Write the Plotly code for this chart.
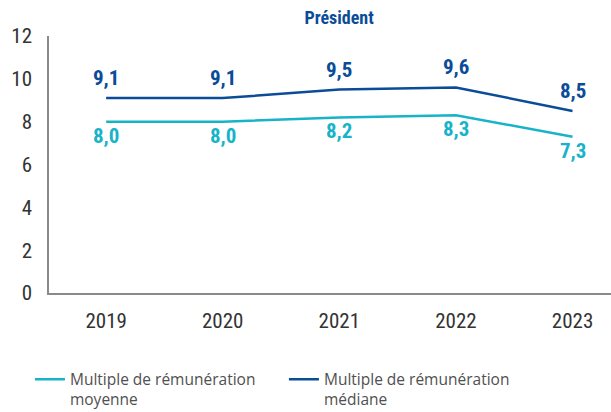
import plotly.graph_objects as go

years = ["2019", "2020", "2021", "2022", "2023"]
moyenne = [8.0, 8.0, 8.2, 8.3, 7.3]
mediane = [9.1, 9.1, 9.5, 9.6, 8.5]
y_ticks = [0, 2, 4, 6, 8, 10, 12]

CYAN = "#17b3c9"
NAVY = "#0b4c98"
NUM_FONT = "Roboto Condensed, Open Sans Condensed, sans-serif"

x = list(range(len(years)))

fig = go.Figure()
fig.add_trace(go.Scatter(
    x=x, y=moyenne, mode="lines", name="Multiple de rémunération<br>moyenne",
    line=dict(color=CYAN, width=2.5),
))
fig.add_trace(go.Scatter(
    x=x, y=mediane, mode="lines", name="Multiple de rémunération<br>médiane",
    line=dict(color=NAVY, width=2.5),
))

def fmt(v):
    return f"{v:.1f}".replace(".", ",")

annotations = []
for i, v in enumerate(mediane):
    annotations.append(dict(x=i, y=v, text=fmt(v), showarrow=False, yshift=20,
                            font=dict(family=NUM_FONT, size=21, color=NAVY, weight="bold")))
for i, v in enumerate(moyenne):
    annotations.append(dict(x=i, y=v, text=fmt(v), showarrow=False, yshift=-14,
                            font=dict(family=NUM_FONT, size=21, color=CYAN, weight="bold")))

fig.update_layout(
    width=611, height=412,
    margin=dict(l=49, r=0, t=36, b=119),
    paper_bgcolor="white", plot_bgcolor="white",
    title=dict(text="<b>Président</b>", x=0.555, xanchor="center", y=0.958, yanchor="middle",
               font=dict(family=NUM_FONT, size=18, color=NAVY)),
    xaxis=dict(range=[-0.49, 4.33], tickvals=x, ticktext=years, showgrid=False,
               zeroline=False, showline=True, linecolor="#8a8a8a", linewidth=1.5,
               ticks="outside", ticklen=0, ticklabelstandoff=8,
               tickfont=dict(family=NUM_FONT, size=21, color="#333333")),
    yaxis=dict(range=[0, 12], tickvals=y_ticks, showgrid=False, zeroline=False,
               showline=True, linecolor="#8a8a8a", linewidth=1.5,
               ticks="outside", ticklen=0, ticklabelstandoff=11,
               tickfont=dict(family=NUM_FONT, size=21, color="#333333")),
    showlegend=True,
    legend=dict(orientation="h", x=0.049, xref="container", xanchor="left",
                y=0.12, yref="container", yanchor="top",
                entrywidth=209, entrywidthmode="pixels", valign="top",
                font=dict(family="Open Sans, sans-serif", size=15.5, color="#505050"),
                tracegroupgap=0, itemwidth=30),
    annotations=annotations,
)

fig.write_html("out.html")
